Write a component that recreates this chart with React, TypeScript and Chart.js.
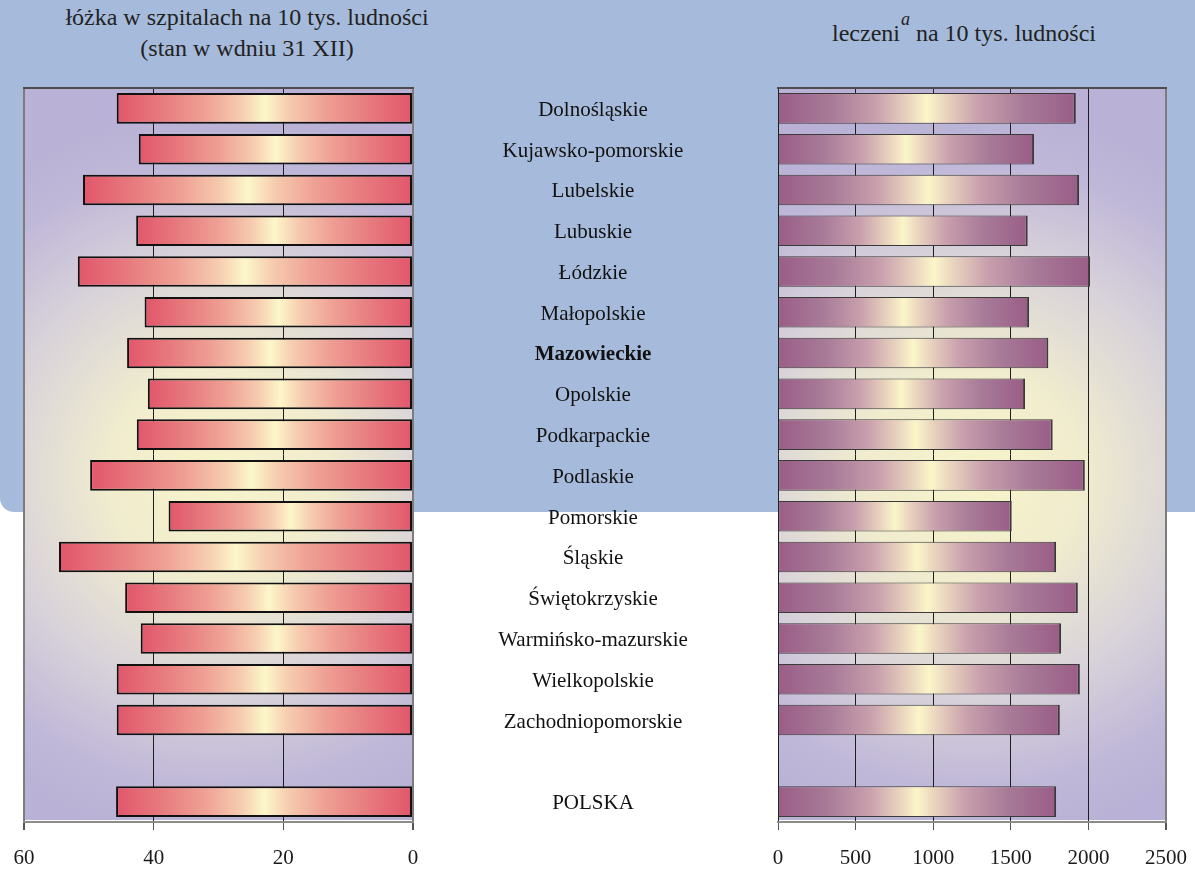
import React, { useEffect, useRef } from "react";
import { Chart, registerables } from "chart.js";

Chart.register(...registerables);

const categories = [
  "Dolnośląskie",
  "Kujawsko-pomorskie",
  "Lubelskie",
  "Lubuskie",
  "Łódzkie",
  "Małopolskie",
  "Mazowieckie",
  "Opolskie",
  "Podkarpackie",
  "Podlaskie",
  "Pomorskie",
  "Śląskie",
  "Świętokrzyskie",
  "Warmińsko-mazurskie",
  "Wielkopolskie",
  "Zachodniopomorskie",
  "",
  "POLSKA",
];
const boldCategory = "Mazowieckie";

// łóżka w szpitalach na 10 tys. ludności
const beds = [45.7, 42.3, 50.9, 42.7, 51.7, 41.4, 44.1, 40.9, 42.6, 49.8, 37.7, 54.6, 44.4, 42.0, 45.7, 45.7, null, 45.8];
// leczeni na 10 tys. ludności
const treated = [1919, 1650, 1940, 1609, 2011, 1618, 1742, 1592, 1770, 1977, 1506, 1792, 1932, 1824, 1945, 1816, null, 1792];

const bedsAxis = { min: 0, max: 60, step: 20 };
const treatedAxis = { min: 0, max: 2500, step: 500 };

const leftTitle = ["łóżka w szpitalach na 10 tys. ludności", "(stan w wdniu 31 XII)"];

const FONT = "'Liberation Serif', 'Times New Roman', serif";

const redStops: [number, string][] = [
  [0, "#e2566b"],
  [0.15, "#e77a7e"],
  [0.3, "#efa195"],
  [0.42, "#f6ccb0"],
  [0.5, "#fcf7c9"],
  [0.58, "#f6ccb0"],
  [0.7, "#efa195"],
  [0.85, "#e77a7e"],
  [1, "#e2566b"],
];
const purpleStops: [number, string][] = [
  [0, "#9a5d87"],
  [0.18, "#a87b98"],
  [0.33, "#c9a0ad"],
  [0.44, "#ead5bf"],
  [0.5, "#fbf6c9"],
  [0.56, "#ead5bf"],
  [0.67, "#c9a0ad"],
  [0.82, "#a87b98"],
  [1, "#9a5d87"],
];

function barGradient(stops: [number, string][]) {
  return (ctx: any) => {
    const chart = ctx.chart;
    const v = ctx.raw;
    if (v == null) return "rgba(0,0,0,0)";
    const sx = chart.scales && chart.scales.x;
    if (!chart.chartArea || !sx) return stops[0][1];
    const x0 = sx.getPixelForValue(0);
    const x1 = sx.getPixelForValue(v);
    if (!isFinite(x0) || !isFinite(x1) || x0 === x1) return stops[0][1];
    const g = chart.ctx.createLinearGradient(x0, 0, x1, 0);
    stops.forEach(([o, c]) => g.addColorStop(o, c));
    return g;
  };
}

const plotBg = {
  id: "plotBg",
  beforeDraw(chart: any) {
    const { ctx, chartArea: a } = chart;
    if (!a) return;
    const cx = (a.left + a.right) / 2;
    const cy = (a.top + a.bottom) / 2 + 20;
    const ry = (a.bottom - a.top) / 2;
    const rx = ((a.right - a.left) / 2) * 1.9;
    ctx.save();
    ctx.beginPath();
    ctx.rect(a.left, a.top, a.right - a.left, a.bottom - a.top - 2);
    ctx.clip();
    ctx.translate(cx, cy);
    ctx.scale(rx / ry, 1);
    const g = ctx.createRadialGradient(0, 0, 0, 0, 0, ry * 1.0);
    g.addColorStop(0, "#f7f4ca");
    g.addColorStop(0.3, "#f0ecce");
    g.addColorStop(0.6, "#d8d2da");
    g.addColorStop(0.85, "#c0b8d8");
    g.addColorStop(1, "#bab2d6");
    ctx.fillStyle = g;
    ctx.fillRect(-ry * 4, -ry * 4, ry * 8, ry * 8);
    ctx.restore();
  },
  afterDraw(chart: any) {
    const { ctx, chartArea: a } = chart;
    ctx.save();
    ctx.strokeStyle = "#4d4d4d";
    ctx.lineWidth = 2;
    ctx.beginPath();
    ctx.moveTo(a.left - 1, a.top);
    ctx.lineTo(a.right + 1, a.top);
    ctx.stroke();
    ctx.restore();
  },
};

const centerLabels = {
  id: "centerLabels",
  afterDraw(chart: any) {
    const { ctx } = chart;
    const ys = chart.scales.y;
    ctx.save();
    ctx.fillStyle = "#111";
    ctx.textAlign = "center";
    ctx.textBaseline = "middle";
    categories.forEach((c, i) => {
      if (!c) return;
      ctx.font = (c === boldCategory ? "bold " : "") + "21px " + FONT;
      ctx.fillText(c, 593, ys.getPixelForValue(i) + 2);
    });
    ctx.restore();
  },
};

function xAxis(cfg: { min: number; max: number; step: number }, reverse: boolean, greyVals: number[]) {
  return {
    type: "linear",
    min: cfg.min,
    max: cfg.max,
    reverse,
    afterFit: (s: any) => {
      s.height = 49;
      s.paddingLeft = 0;
      s.paddingRight = 0;
    },
    ticks: {
      stepSize: cfg.step,
      color: "#1a1a1a",
      font: { family: FONT, size: 21 },
      padding: 16,
      maxRotation: 0,
      callback: (v: any) => String(v),
    },
    grid: {
      color: (c: any) => (c.tick && greyVals.includes(c.tick.value) ? "#7c7c7c" : "#1e1e1e"),
      lineWidth: (c: any) => (c.tick && greyVals.includes(c.tick.value) ? 2 : 1),
      tickLength: 8,
      tickColor: "#555",
      drawOnChartArea: true,
    },
    border: { display: true, color: "#8c8c8c", width: 2 },
  };
}

export default function App() {
  const leftRef = useRef<HTMLCanvasElement | null>(null);
  const rightRef = useRef<HTMLCanvasElement | null>(null);

  useEffect(() => {
    const left = new Chart(leftRef.current as HTMLCanvasElement, {
      type: "bar",
      data: {
        labels: categories,
        datasets: [
          {
            data: beds as any,
            backgroundColor: barGradient(redStops) as any,
            borderColor: "#111",
            borderWidth: 2,
            borderSkipped: false,
            barPercentage: 0.75,
            categoryPercentage: 1,
          },
        ],
      },
      options: {
        indexAxis: "y",
        responsive: false,
        animation: false,
        events: [],
        layout: { padding: { left: 24, top: 88, right: 367, bottom: 0 } },
        plugins: { legend: { display: false }, tooltip: { enabled: false } },
        scales: {
          x: xAxis(bedsAxis, true, [60, 0]) as any,
          y: { type: "category", display: false, offset: true, grid: { display: false } },
        },
      },
      plugins: [plotBg, centerLabels],
    });

    const right = new Chart(rightRef.current as HTMLCanvasElement, {
      type: "bar",
      data: {
        labels: categories,
        datasets: [
          {
            data: treated as any,
            backgroundColor: barGradient(purpleStops) as any,
            borderColor: "#3a3a3a",
            borderWidth: { top: 1, bottom: 1, left: 1, right: 2 } as any,
            borderSkipped: false,
            barPercentage: 0.75,
            categoryPercentage: 1,
          },
        ],
      },
      options: {
        indexAxis: "y",
        responsive: false,
        animation: false,
        events: [],
        layout: { padding: { left: 18, top: 88, right: 29, bottom: 0 } },
        plugins: { legend: { display: false }, tooltip: { enabled: false } },
        scales: {
          x: xAxis(treatedAxis, false, [2500]) as any,
          y: { type: "category", display: false, offset: true, grid: { display: false } },
        },
      },
      plugins: [plotBg],
    });

    return () => {
      left.destroy();
      right.destroy();
    };
  }, []);

  return (
    <div style={{ position: "absolute", left: 0, top: 0, width: 1195, height: 871, background: "#fff", overflow: "hidden" }}>
      <div
        style={{
          position: "absolute",
          left: 0,
          top: 0,
          width: 1195,
          height: 512,
          background: "#a6bbdb",
          borderBottomLeftRadius: 14,
        }}
      />
      <div
        style={{
          position: "absolute",
          left: 47,
          top: 2,
          width: 400,
          textAlign: "center",
          fontFamily: FONT,
          fontSize: 24,
          lineHeight: "31px",
          color: "#222",
        }}
      >
        {leftTitle.map((t, i) => (
          <div key={i}>{t}</div>
        ))}
      </div>
      <div
        style={{
          position: "absolute",
          left: 764,
          top: 18,
          width: 400,
          textAlign: "center",
          fontFamily: FONT,
          fontSize: 24,
          lineHeight: "31px",
          color: "#222",
          whiteSpace: "nowrap",
        }}
      >
        leczeni
        <span style={{ fontStyle: "italic", fontSize: 18, position: "relative", top: -16, marginLeft: 1 }}>a</span>
        {" na 10 tys. ludności"}
      </div>
      <canvas ref={leftRef} width={780} height={871} style={{ position: "absolute", left: 0, top: 0 }} />
      <canvas ref={rightRef} width={435} height={871} style={{ position: "absolute", left: 760, top: 0 }} />
    </div>
  );
}
